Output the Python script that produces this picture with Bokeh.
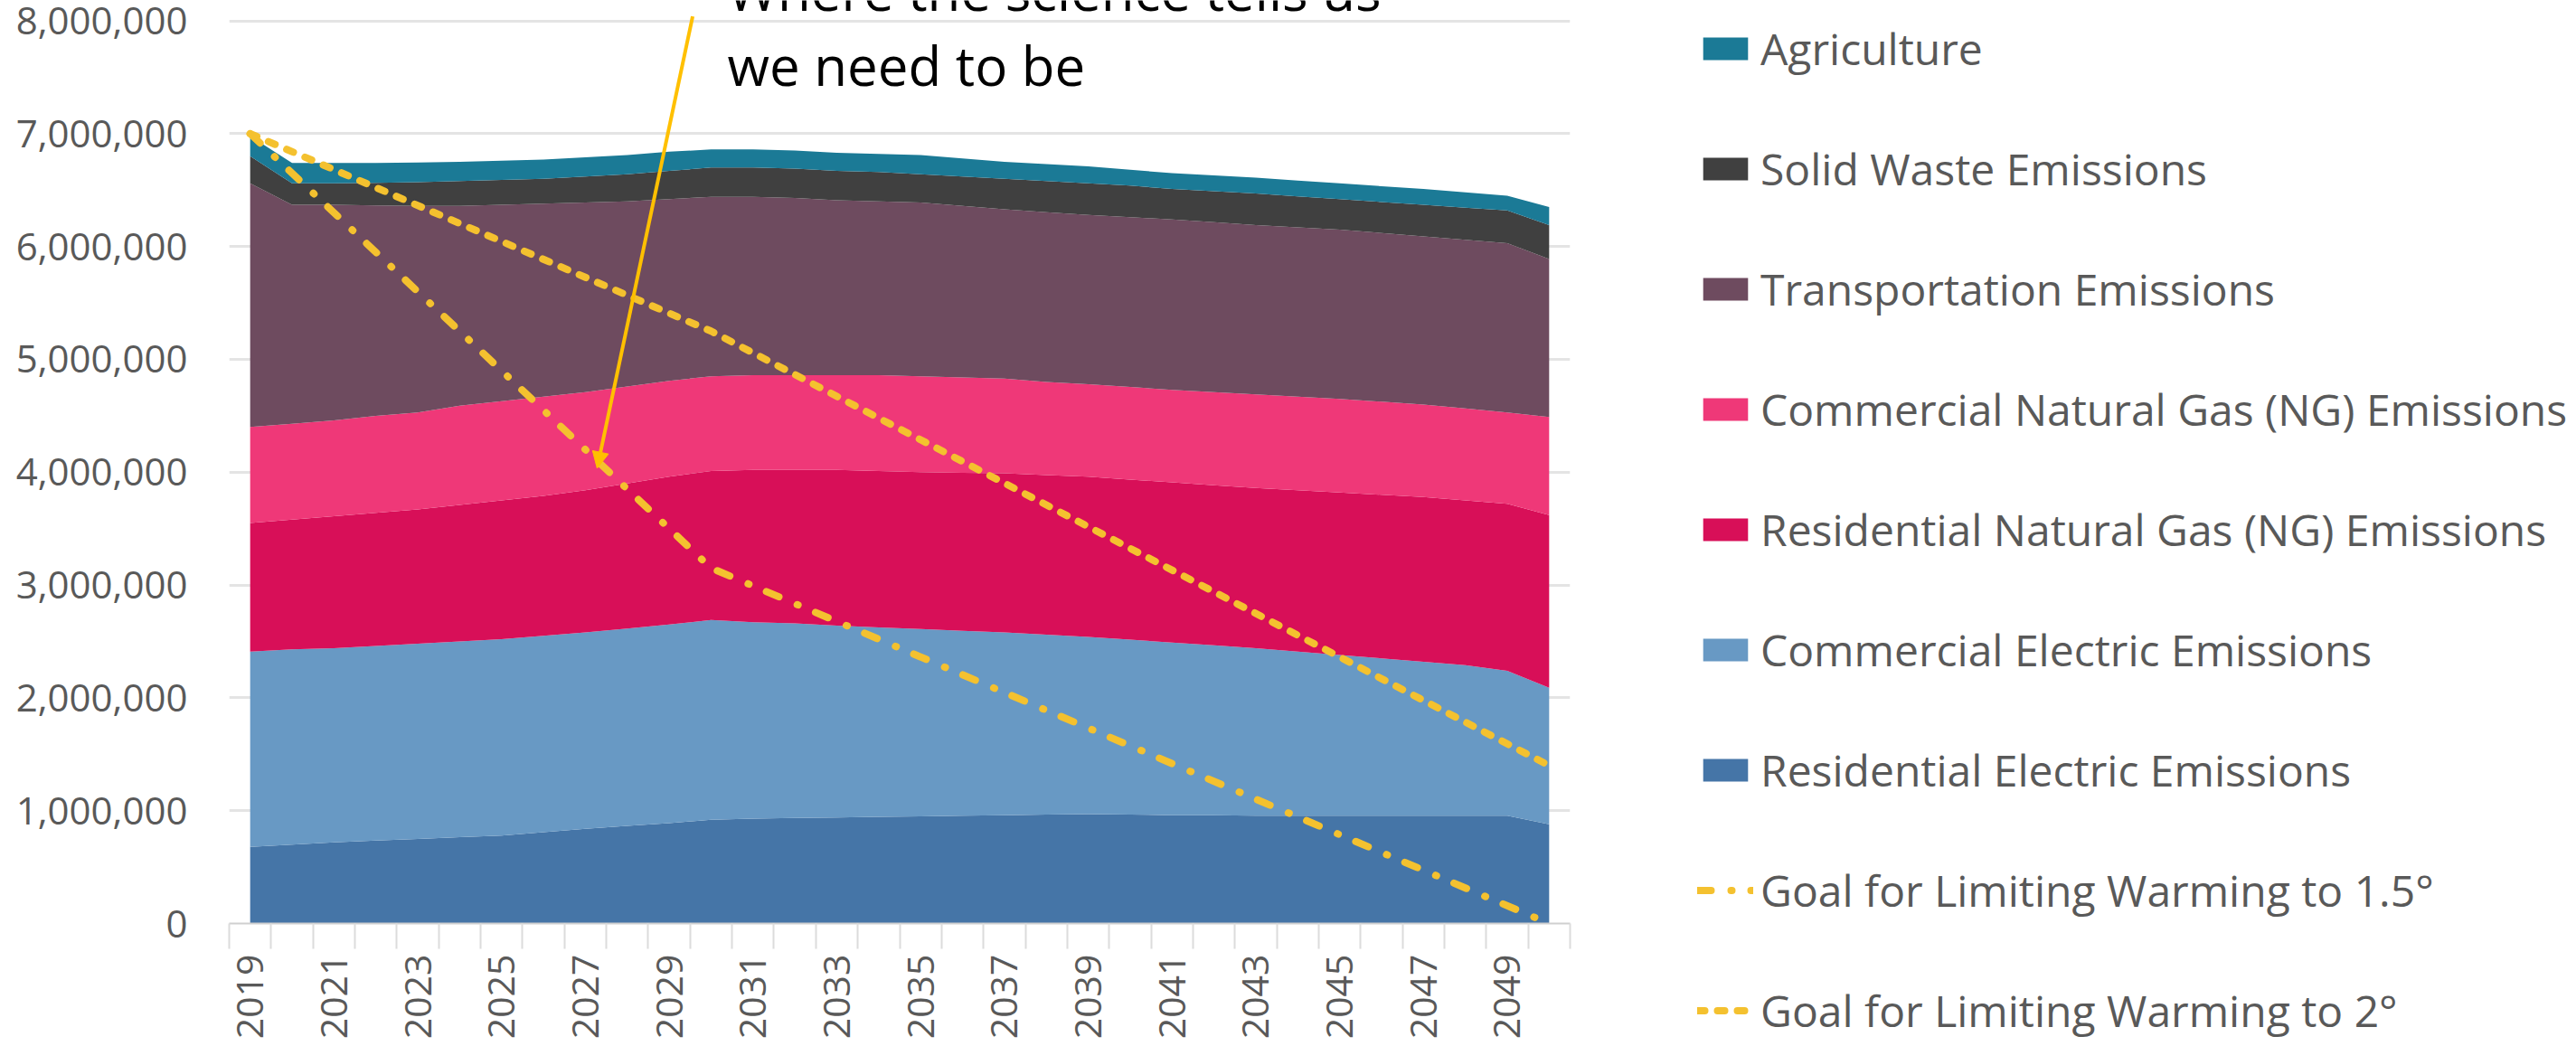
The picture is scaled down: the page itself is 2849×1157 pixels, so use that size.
from bokeh.plotting import figure
from bokeh.layouts import row
from bokeh.models import (ColumnDataSource, Range1d, FixedTicker, NumeralTickFormatter,
                          Legend, LegendItem, Arrow, NormalHead, Label)
from bokeh.embed import file_html
from bokeh.resources import INLINE
import math

# ---- data (tCO2e per year) ----
years = list(range(2019, 2051))

residential_electric = [680000, 700000, 720000, 735000, 750000, 765000, 780000, 810000,
                        840000, 865000, 890000, 920000, 930000, 935000, 940000, 945000,
                        950000, 955000, 960000, 965000, 970000, 965000, 960000, 960000,
                        955000, 955000, 955000, 955000, 955000, 955000, 955000, 880000]
commercial_electric = [1730000, 1730000, 1720000, 1725000, 1730000, 1735000, 1740000, 1740000,
                       1740000, 1750000, 1760000, 1770000, 1740000, 1725000, 1700000, 1680000,
                       1660000, 1640000, 1620000, 1595000, 1570000, 1550000, 1530000, 1505000,
                       1485000, 1455000, 1425000, 1395000, 1365000, 1335000, 1285000, 1210000]
residential_ng = [1140000, 1150000, 1170000, 1180000, 1190000, 1210000, 1230000, 1240000,
                  1260000, 1285000, 1310000, 1320000, 1350000, 1360000, 1380000, 1385000,
                  1390000, 1400000, 1410000, 1415000, 1420000, 1420000, 1420000, 1420000,
                  1420000, 1430000, 1440000, 1450000, 1460000, 1460000, 1480000, 1530000]
commercial_ng = [850000, 850000, 850000, 860000, 860000, 880000, 880000, 880000,
                 870000, 860000, 850000, 840000, 840000, 840000, 840000, 850000,
                 850000, 845000, 840000, 825000, 820000, 820000, 820000, 825000,
                 830000, 830000, 830000, 825000, 820000, 815000, 810000, 870000]
transportation = [2160000, 1940000, 1910000, 1865000, 1830000, 1770000, 1740000, 1710000,
                  1680000, 1640000, 1610000, 1590000, 1580000, 1570000, 1550000, 1540000,
                  1540000, 1520000, 1500000, 1505000, 1500000, 1505000, 1510000, 1505000,
                  1500000, 1500000, 1500000, 1495000, 1490000, 1495000, 1500000, 1400000]
solid_waste = [240000, 190000, 190000, 200000, 210000, 220000, 220000, 220000,
               230000, 240000, 250000, 260000, 260000, 260000, 260000, 260000,
               250000, 260000, 270000, 275000, 280000, 280000, 270000, 275000,
               280000, 275000, 270000, 275000, 280000, 285000, 290000, 300000]
agriculture = [180000, 180000, 180000, 175000, 175000, 170000, 170000, 170000,
               170000, 170000, 170000, 160000, 160000, 160000, 160000, 160000,
               170000, 160000, 150000, 150000, 150000, 140000, 140000, 140000,
               140000, 140000, 140000, 140000, 140000, 135000, 130000, 160000]

goal_years = [2019, 2030, 2050]
goal_1_5 = [7000000, 3150000, 0]
goal_2 = [7000000, 5250000, 1400000]

series_names = ["Residential Electric Emissions", "Commercial Electric Emissions",
                "Residential Natural Gas (NG) Emissions", "Commercial Natural Gas (NG) Emissions",
                "Transportation Emissions", "Solid Waste Emissions", "Agriculture"]
series_keys = ["res_elec", "com_elec", "res_ng", "com_ng", "transport", "waste", "agri"]
series_colors = ["#4575A7", "#6899C4", "#D80F58", "#EF3878", "#6E4B5F", "#404040", "#1B7A96"]
goal_names = ["Goal for Limiting Warming to 1.5°", "Goal for Limiting Warming to 2°"]

year_ticks = list(range(2019, 2050, 2))
y_ticks = list(range(0, 8000001, 1000000))

source = ColumnDataSource(dict(
    year=years, res_elec=residential_electric, com_elec=commercial_electric,
    res_ng=residential_ng, com_ng=commercial_ng, transport=transportation,
    waste=solid_waste, agri=agriculture))

GOLD = "#F4C12F"
DASH_15 = "15 22 1 21"
DASH_2 = "8 14"


def draw_series(fig):
    """Stacked emission areas plus the two reduction pathways."""
    stack = fig.varea_stack(stackers=series_keys, x="year", color=series_colors, source=source)
    g15 = fig.line(goal_years, goal_1_5, line_color=GOLD, line_width=8,
                   line_dash=DASH_15, line_cap="round")
    g2 = fig.line(goal_years, goal_2, line_color=GOLD, line_width=8,
                  line_dash=DASH_2, line_cap="round")
    return stack, g15, g2


# ---- chart ----
H = 1157
CHART_W, LEGEND_W = 1800, 1049
p = figure(width=CHART_W, height=H, output_backend="svg", toolbar_location=None,
           x_range=Range1d(2018.5, 2050.5), y_range=Range1d(0, 8181000),
           min_border_left=253, min_border_right=CHART_W - 1736,
           min_border_top=0, min_border_bottom=H - 1021)
p.frame_align = False
p.outline_line_color = None
p.background_fill_color = "white"
p.border_fill_color = "white"

draw_series(p)

# ---- axes ----
p.xgrid.visible = False
p.ygrid.ticker = FixedTicker(ticks=y_ticks)
p.ygrid.grid_line_color = "#E4E4E4"
p.ygrid.grid_line_width = 3

xa = p.xaxis[0]
xa.ticker = FixedTicker(ticks=year_ticks, minor_ticks=[y - 0.5 for y in years] + [2050.5])
xa.major_label_orientation = math.pi / 2
xa.major_tick_line_color = None
xa.major_tick_out = 0
xa.major_tick_in = 0
xa.minor_tick_line_color = "#DCDCDC"
xa.minor_tick_line_width = 2
xa.minor_tick_out = 28
xa.minor_tick_in = 0
xa.axis_line_color = "#D0D0D0"
xa.axis_line_width = 2
xa.major_label_standoff = 6
xa.major_label_text_font = "Open Sans"
xa.major_label_text_font_size = "41px"
xa.major_label_text_color = "#595959"

ya = p.yaxis[0]
ya.ticker = FixedTicker(ticks=y_ticks)
ya.formatter = NumeralTickFormatter(format="0,0")
ya.axis_line_color = None
ya.major_tick_line_color = None
ya.minor_tick_line_color = None
ya.major_tick_out = 0
ya.major_label_standoff = 46
ya.major_label_text_font = "Open Sans"
ya.major_label_text_font_size = "42px"
ya.major_label_text_color = "#595959"

# ---- annotation ----
p.add_layout(Arrow(x_start=2029.56, y_start=8040000, x_end=2027.28, y_end=4035000,
                   line_color="#FFC000", line_width=4,
                   end=NormalHead(size=18, fill_color="#FFC000", line_color="#FFC000")))
for txt, yy in [("Where the science tells us", 8270000), ("we need to be", 7605000)]:
    p.add_layout(Label(x=2030.39, y=yy, text=txt, text_font="Open Sans",
                       text_font_size="60px", text_color="black",
                       text_baseline="alphabetic", text_align="left"))

# ---- legend panel (same series; its ranges keep the marks out of view) ----
q = figure(width=LEGEND_W, height=H, output_backend="svg", toolbar_location=None,
           x_range=Range1d(0, 1), y_range=Range1d(0, 1),
           x_axis_location=None, y_axis_location=None,
           min_border_left=0, min_border_right=0, min_border_top=0, min_border_bottom=0)
q.frame_align = False
q.grid.visible = False
q.outline_line_color = None
q.background_fill_color = "white"
q.border_fill_color = "white"

stack_q, key_15, key_2 = draw_series(q)

items = [LegendItem(label=series_names[i], renderers=[stack_q[i]]) for i in range(6, -1, -1)]
items.append(LegendItem(label=goal_names[0], renderers=[key_15]))
items.append(LegendItem(label=goal_names[1], renderers=[key_2]))
legend = Legend(items=items, location=(77, 7), orientation="vertical",
                glyph_width=62, glyph_height=31, label_height=66, spacing=67,
                padding=0, margin=0, border_line_color=None, background_fill_alpha=0,
                label_standoff=8, label_text_font="Open Sans", label_text_font_size="48px",
                label_text_color="#595959")
q.add_layout(legend)

layout = row(p, q, spacing=0)
open("out.html", "w").write(file_html(layout, INLINE))
